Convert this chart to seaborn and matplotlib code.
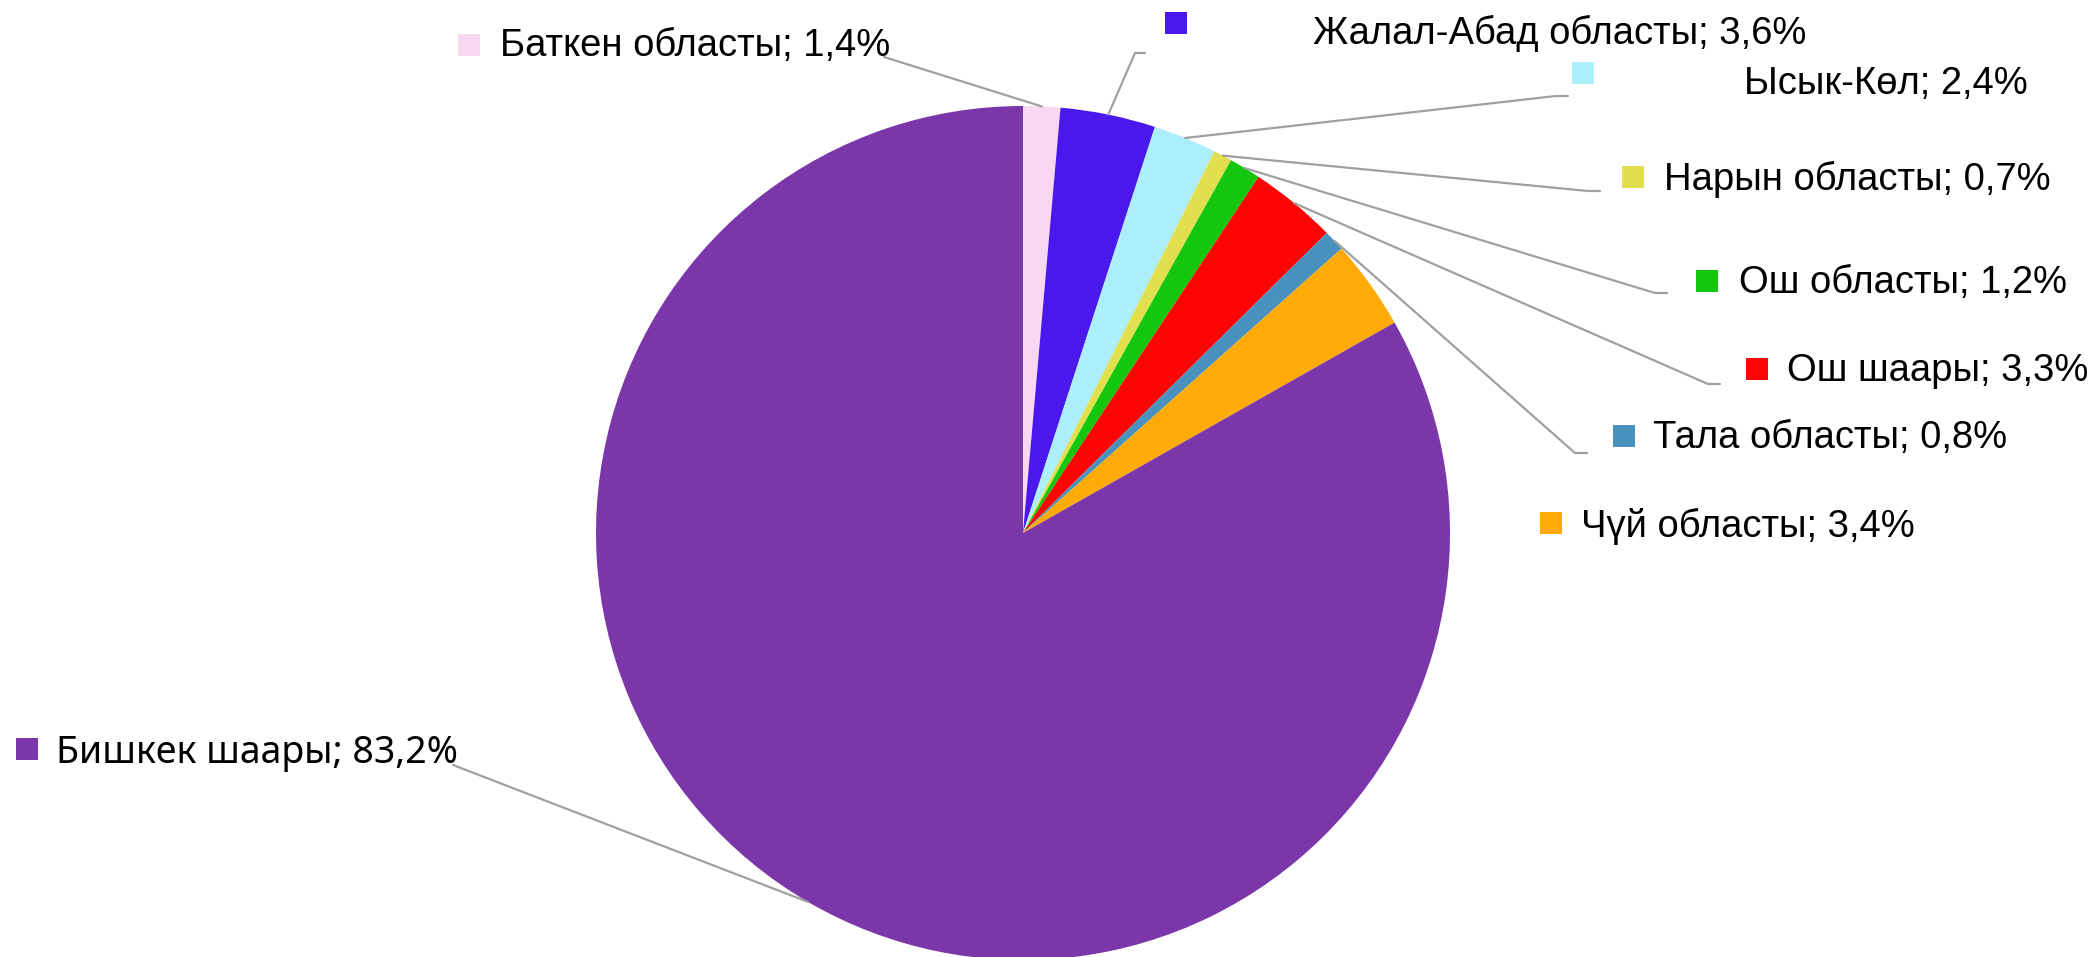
"""Pie chart of regional shares (Kyrgyzstan), with leader-line labels."""

import numpy as np
import seaborn as sns
import matplotlib.pyplot as plt
from matplotlib.patches import Rectangle
from matplotlib.lines import Line2D

###################################################################################################
###################################################################################################

regions = ['Баткен областы', 'Жалал-Абад областы', 'Ысык-Көл', 'Нарын областы',
           'Ош областы', 'Ош шаары', 'Тала областы', 'Чүй областы', 'Бишкек шаары']
shares = [1.4, 3.6, 2.4, 0.7, 1.2, 3.3, 0.8, 3.4, 83.2]
colors = ['#F8D7F0', '#4A18EC', '#ADEEFB', '#E2DF4E', '#14C70E',
          '#FE0505', '#4A92BE', '#FEAA07', '#7B37AA']

# Label layout, in pixels from top-left: marker centre, text left x, text centre y
marker_pos = [(469, 45), (1176, 23), (1583, 73), (1633, 177), (1707, 281),
              (1757, 369), (1624, 436), (1551, 523), (27, 749)]
text_pos = [(500, 46), (1313, 33), (1744, 84), (1664, 179), (1739, 283),
            (1787, 371), (1653, 438), (1581, 526), (56, 753)]
# Leader line end (None = no line) and length of the horizontal stub
leader_end = [(884, 57), (1145, 53), (1568, 96), (1600, 191), (1667, 293),
              (1720, 384), (1587, 453), None, (453, 765)]
stub = [0, 10, 12, 12, 12, 12, 12, 0, 0]

W, H = 2090, 957


def fpos(x, y):
    """Convert pixel position from top-left to figure fraction."""
    return x / W, 1 - y / H


sns.set_style('white')

fig = plt.figure(figsize=[W / 100, H / 100], dpi=100)

# Pie: centre (1023, 533), radius 427 px (bottom runs just off the canvas)
cx, cy, r = 1023, 533, 427
ax = fig.add_axes([(cx - r) / W, 1 - (cy + r) / H, 2 * r / W, 2 * r / H])

wedges, _ = ax.pie(shares, colors=colors, startangle=90, counterclock=False,
                   radius=1, wedgeprops=dict(linewidth=0))
ax.set_xlim(-1, 1)
ax.set_ylim(-1, 1)
ax.set_aspect('equal')
ax.axis('off')

to_fig = fig.transFigure.inverted()

for i, (name, val) in enumerate(zip(regions, shares)):

    label = '{}; {}%'.format(name, str(val).replace('.', ','))

    # Marker square
    mx, my = marker_pos[i]
    sq = 22
    fig.patches.append(Rectangle(fpos(mx - sq / 2, my + sq / 2), sq / W, sq / H,
                                 transform=fig.transFigure, facecolor=colors[i],
                                 edgecolor='none'))

    # Label text
    tx, ty = text_pos[i]
    if name == 'Бишкек шаары':
        fig.text(*fpos(tx, ty), label, ha='left', va='center', fontsize=27,
                 family=['Noto Sans', 'DejaVu Sans'], color='black')
    else:
        fig.text(*fpos(tx, ty), label, ha='left', va='center', fontsize=27.5,
                 family=['Liberation Sans', 'DejaVu Sans'], color='black')

    # Leader line from the wedge edge
    if leader_end[i] is None:
        continue
    w = wedges[i]
    ang = np.deg2rad((w.theta1 + w.theta2) / 2)
    sx, sy = to_fig.transform(ax.transData.transform((np.cos(ang), np.sin(ang))))
    ex, ey = leader_end[i]
    kx, ky = fpos(ex - stub[i], ey)
    ex, ey = fpos(ex, ey)
    fig.lines.append(Line2D([sx, kx, ex], [sy, ky, ey], transform=fig.transFigure,
                            color='#A0A0A0', linewidth=1.6))

fig.savefig('out.png', dpi=100, facecolor='white')
